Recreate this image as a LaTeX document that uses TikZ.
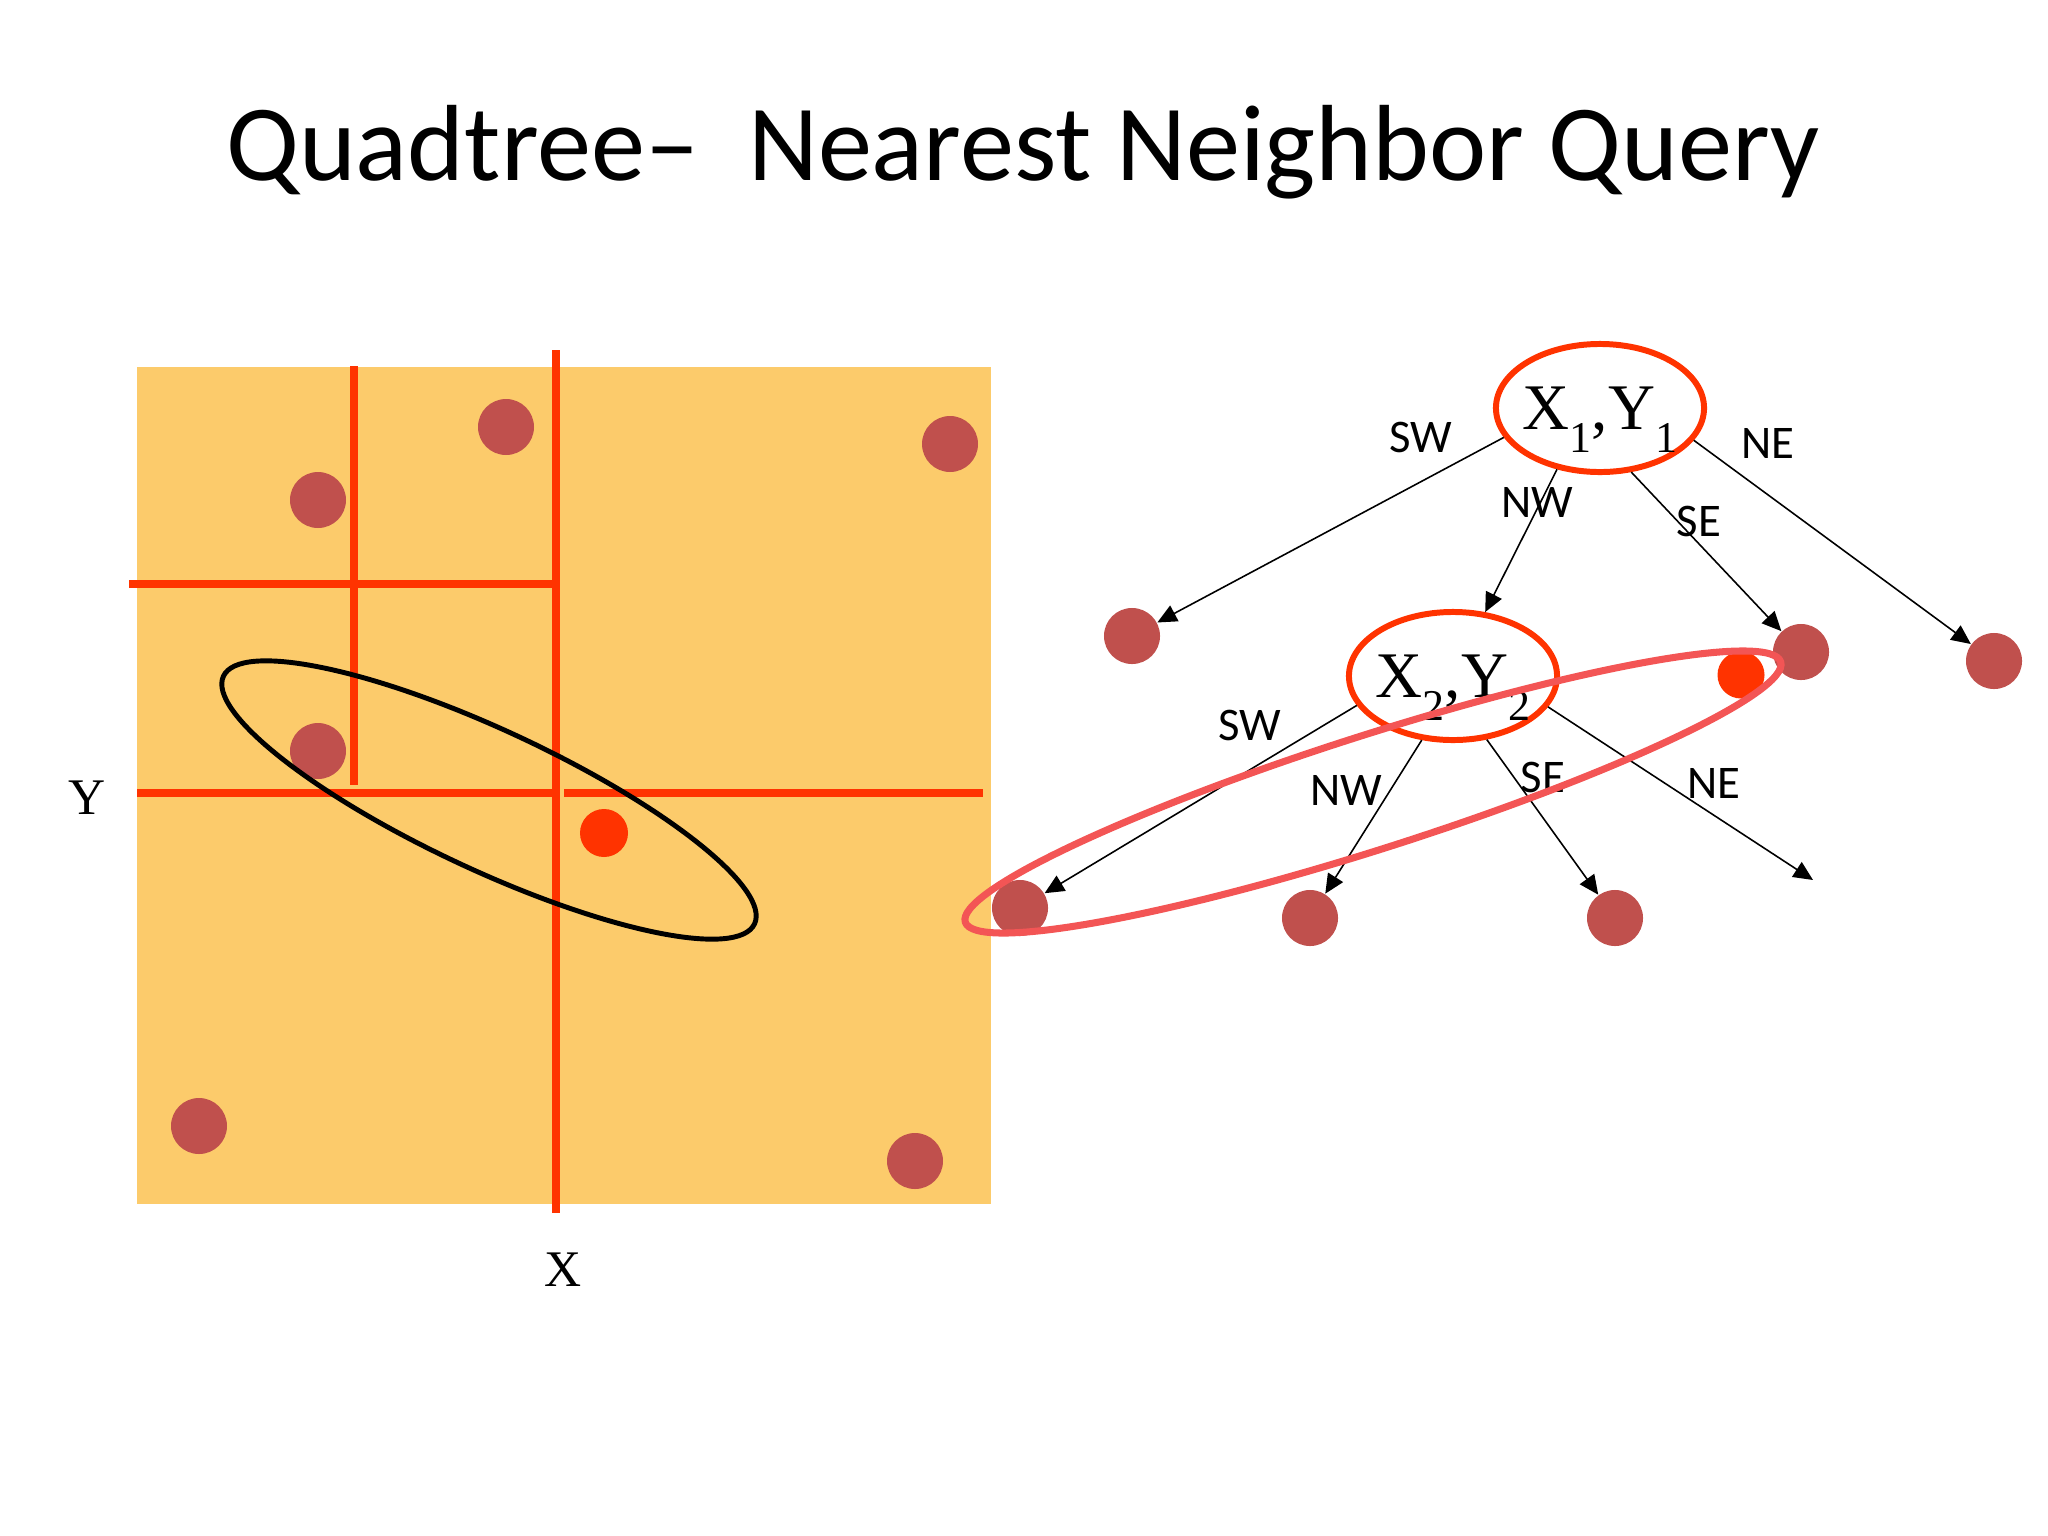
\documentclass[tikz,border=0pt]{standalone}
\usepackage{fontspec}
\setmainfont{Carlito}
\newfontfamily\timesfont{Liberation Serif}
\usetikzlibrary{shapes.geometric,arrows.meta}
\definecolor{squarefill}{RGB}{252,203,107}
\definecolor{splitred}{RGB}{255,51,0}
\definecolor{dotred}{RGB}{192,80,77}
\definecolor{pinkred}{RGB}{243,85,85}
\newcommand{\lowsub}[1]{\raisebox{-0.36em}{\fontsize{12.5}{13}\selectfont #1}}
\begin{document}
\begin{tikzpicture}[x=0.01cm,y=-0.01cm,
  dot/.style={circle,fill=dotred,inner sep=0pt,minimum size=0.56cm},
  split/.style={draw=splitred,line width=2pt},
  knot/.style={ellipse,draw=splitred,line width=1.7pt,minimum width=2.08cm,minimum height=1.28cm,inner sep=0pt,text depth=0pt,font=\timesfont\fontsize{18.5}{19}\selectfont},
  edge/.style={-{Triangle[length=5.5pt,width=5pt]},line width=0.45pt},
  dir/.style={font=\fontsize{13.3}{14}\selectfont}]
\useasboundingbox (0,0) rectangle (2048,1536);
\node[font=\fontsize{30.8}{32}\selectfont,anchor=base] (title) at (1023,180) {Quadtree–\ \ Nearest Neighbor Query};
% the plane
\fill[squarefill] (137,367) rectangle (991,1204);
\draw[split] (556,350) -- (556,1213);
\draw[split] (129,584) -- (553,584);
\draw[split] (354,366) -- (354,785);
\draw[split] (137,793) -- (553,793);
\draw[split] (564,793) -- (983,793);
\fill[dotred] (506,427) circle (28);
\fill[dotred] (318,500) circle (28);
\fill[dotred] (950,444) circle (28);
\fill[dotred] (318,751) circle (28);
\fill[dotred] (199,1126) circle (28);
\fill[dotred] (915,1161) circle (28);
\fill[splitred] (604,833) circle (24);
\draw[line width=1.4pt,shift={(489,800)},rotate=-25] (0,0) ellipse [x radius=293, y radius=70];
\node[font=\timesfont\fontsize{14.6}{15}\selectfont] (ylab) at (87,798) {Y};
\node[font=\timesfont\fontsize{14.6}{15}\selectfont] (xlab) at (563,1270) {X};
% the tree
\node[knot] (root) at (1600,408) {\makebox[0pt]{X\lowsub{1},Y\lowsub{1}}};
\node[knot] (kid) at (1453,676) {\makebox[0pt]{X\lowsub{2},Y\lowsub{2}}};
\node[dot] (sw1) at (1132,636) {};
\node[dot] (se1) at (1801,652) {};
\node[dot] (ne1) at (1994,661) {};
\node[dot] (sw2) at (1020,908) {};
\node[dot] (nw2) at (1310,918) {};
\node[dot] (se2) at (1615,918) {};
\coordinate (ne2) at (1813,880);
\node[circle,fill=splitred,inner sep=0pt,minimum size=0.47cm] (hit) at (1741,675) {};
\draw[edge] (root.197) -- (sw1);
\draw[edge] (root.235) -- (kid);
\draw[edge] (root.296) -- (se1);
\draw[edge] (root.341) -- (ne1);
\draw[edge] (kid.197) -- (sw2);
\draw[edge] (kid.244) -- (nw2);
\draw[edge] (kid.298) -- (se2);
\draw[edge] (kid.342) -- (ne2);
\node[dir] (lsw1) at (1421,437) {SW};
\node[dir] (lnw1) at (1537,502) {NW};
\node[dir] (lse1) at (1699,521) {SE};
\node[dir] (lne1) at (1768,443) {NE};
\node[dir] (lsw2) at (1250,725) {SW};
\node[dir] (lnw2) at (1346,790) {NW};
\node[dir] (lse2) at (1543,777) {SE};
\node[dir] (lne2) at (1714,783) {NE};
\draw[draw=pinkred,line width=2pt,shift={(1373,792)},rotate=17.7] (0,0) ellipse [x radius=428, y radius=57];
\end{tikzpicture}
\end{document}
